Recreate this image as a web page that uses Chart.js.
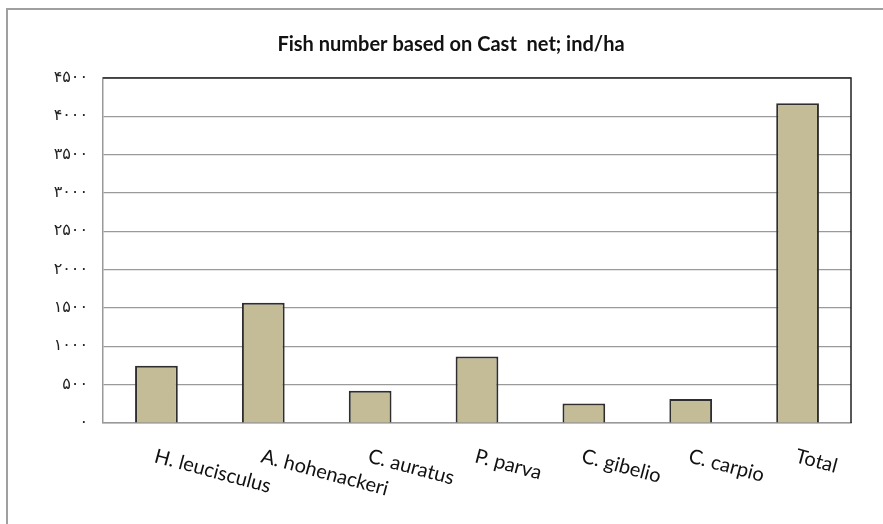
<!DOCTYPE html>
<html>
<head>
<meta charset="utf-8">
<script src="https://cdn.jsdelivr.net/npm/chart.js@4"></script>
<style>
  html, body { margin: 0; padding: 0; background: #fff; }
  #wrap { width: 883px; height: 524px; position: relative; }
</style>
</head>
<body>
<div id="wrap"><canvas id="fishChart"></canvas></div>
<script>
// ---- Data ----------------------------------------------------
const species = ["H. leucisculus", "A. hohenackeri", "C. auratus", "P. parva", "C. gibelio", "C. carpio", "Total"];
const fishPerHa = [746, 1570, 420, 868, 253, 314, 4171];
const yTicks = [0, 500, 1000, 1500, 2000, 2500, 3000, 3500, 4000, 4500];

const FONT = "Lato, 'Open Sans', sans-serif";
const persian = (n) => String(n).replace(/\d/g, (d) => "۰۱۲۳۴۵۶۷۸۹"[d]);

// ---- Outer frame + plot border --------------------------------
const framePlugin = {
  id: "frame",
  beforeDraw(chart) {
    const { ctx } = chart;
    ctx.save();
    ctx.strokeStyle = "#a0a0a0";
    ctx.lineWidth = 2;
    ctx.beginPath();
    ctx.moveTo(7, 524);
    ctx.lineTo(7, 9);
    ctx.lineTo(883, 9);
    ctx.stroke();
    ctx.restore();
  },
  afterDatasetsDraw(chart) {
    const { ctx, chartArea: a } = chart;
    ctx.save();
    ctx.strokeStyle = "#222";
    ctx.lineWidth = 1.5;
    ctx.beginPath();
    ctx.moveTo(a.left, a.top);
    ctx.lineTo(a.right, a.top);
    ctx.lineTo(a.right, a.bottom);
    ctx.stroke();
    ctx.restore();
  },
};

// ---- Slanted category labels (rotated clockwise from tick) ----
const slantLabels = {
  id: "slantLabels",
  afterDraw(chart) {
    const { ctx, chartArea: a } = chart;
    const xs = chart.scales.x;
    ctx.save();
    ctx.font = "20px " + FONT;
    ctx.fillStyle = "#111";
    ctx.textAlign = "left";
    ctx.textBaseline = "top";
    species.forEach((label, i) => {
      ctx.save();
      ctx.translate(xs.getPixelForValue(i) + 1, a.bottom + 23);
      ctx.rotate(15 * Math.PI / 180);
      ctx.fillText(label, 0, 0);
      ctx.restore();
    });
    ctx.restore();
  },
};

new Chart(document.getElementById("fishChart"), {
  type: "bar",
  data: {
    labels: species,
    datasets: [{
      data: fishPerHa,
      backgroundColor: "#c4bc96",
      borderColor: "#2e2e2e",
      borderWidth: 2,
      borderSkipped: "bottom",
      barPercentage: 0.4,
      categoryPercentage: 1,
    }],
  },
  options: {
    responsive: true,
    maintainAspectRatio: false,
    animation: false,
    layout: { padding: { left: 51, top: 0, right: 32, bottom: 93 } },
    plugins: {
      legend: { display: false },
      tooltip: { enabled: false },
      title: {
        display: true,
        text: "Fish number based on Cast  net; ind/ha",
        color: "#111",
        font: { family: FONT, size: 20, weight: "bold" },
        padding: { top: 33, bottom: 21 },
      },
    },
    scales: {
      x: {
        ticks: { display: false },
        grid: { display: false },
        border: { display: true, color: "#999", width: 1.5 },
      },
      y: {
        min: 0,
        max: 4500,
        afterBuildTicks: (scale) => { scale.ticks = yTicks.map((v) => ({ value: v })); },
        afterFit: (scale) => { scale.width = 52; },
        ticks: {
          padding: 15,
          color: "#222",
          font: { family: "'DejaVu Sans', sans-serif", size: 16 },
          callback: (v) => persian(v),
        },
        grid: { color: "#9a9a9a", lineWidth: 1.2, drawTicks: false },
        border: { display: true, color: "#999", width: 1.5 },
      },
    },
  },
  plugins: [framePlugin, slantLabels],
});
</script>
</body>
</html>
